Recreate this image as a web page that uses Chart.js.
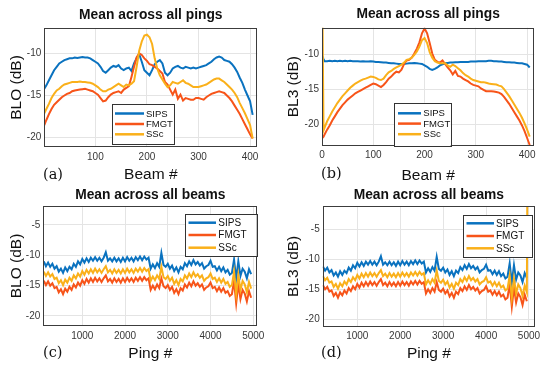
<!DOCTYPE html>
<html><head><meta charset="utf-8">
<script src="https://cdn.jsdelivr.net/npm/chart.js@4.4.0/dist/chart.umd.min.js"></script>
<style>
html,body{margin:0;padding:0;background:#fff;}
#wrap{position:relative;width:550px;height:372px;overflow:hidden;background:#fff;}
canvas{position:absolute;}
.lab{position:absolute;font-family:"DejaVu Serif",serif;font-size:14.5px;color:#111;line-height:1;white-space:nowrap;}
</style></head><body>
<div id="wrap">
<canvas id="ca" width="275" height="186" style="left:0;top:0"></canvas>
<canvas id="cb" width="275" height="186" style="left:275px;top:0"></canvas>
<canvas id="cc" width="275" height="186" style="left:0;top:186px"></canvas>
<canvas id="cd" width="275" height="186" style="left:275px;top:186px"></canvas>
<span class="lab" style="left:43px;top:167px">(a)</span>
<span class="lab" style="left:321px;top:165.5px">(b)</span>
<span class="lab" style="left:43px;top:345px">(c)</span>
<span class="lab" style="left:321px;top:345px">(d)</span>
</div>
<script>
// ---------- data ----------
const seriesNames = ["SIPS", "FMGT", "SSc"];
const titleA = "Mean across all pings";
const titleC = "Mean across all beams";

const beamsA = [1,5,10,15,20,25,30,35,40,45,50,55,60,65,70,75,80,85,90,95,100,105,110,115,120,125,130,135,140,145,150,155,160,165,170,175,180,185,190,195,200,205,210,215,220,225,230,235,240,245,250,255,260,265,270,275,280,285,290,295,300,305,310,315,320,325,330,335,340,345,350,355,360,365,370,375,380,385,390,395,400,405];
const sipsA = [-14.2,-13.8,-13.2,-12.6,-12.0,-11.6,-11.2,-11.0,-10.8,-10.7,
 -10.6,-10.6,-10.5,-10.55,-10.5,-10.45,-10.5,-10.5,-10.6,-10.8,
 -11.0,-11.2,-11.6,-12.1,-12.3,-12.0,-11.7,-11.5,-11.6,-11.4,
 -11.8,-12.0,-11.8,-11.7,-12.1,-11.2,-10.6,-10.1,-11.0,-12.0,
 -12.3,-12.6,-12.0,-11.3,-11.0,-10.8,-11.2,-12.3,-12.6,-12.3,
 -11.8,-11.6,-11.5,-11.7,-11.8,-11.6,-11.7,-11.8,-11.7,-11.8,
 -11.7,-11.6,-11.5,-11.4,-11.2,-11.0,-10.7,-10.5,-10.4,-10.5,
 -10.8,-10.9,-11.0,-11.3,-11.7,-12.2,-12.9,-13.5,-14.3,-15.0,
 -15.7,-17.3];
const fmgtA = [-18.5,-17.9,-17.2,-16.6,-16.1,-15.8,-15.5,-15.2,-15.0,-14.8,
 -14.7,-14.5,-14.4,-14.35,-14.3,-14.25,-14.2,-14.3,-14.4,-14.5,
 -14.7,-14.9,-15.3,-15.7,-15.6,-15.2,-14.9,-14.7,-14.6,-14.5,
 -14.7,-14.3,-14.1,-13.9,-12.8,-11.6,-10.5,-10.0,-10.2,-10.6,
 -10.9,-11.3,-11.4,-11.6,-11.8,-12.1,-12.4,-13.4,-13.7,-14.3,
 -14.9,-14.3,-15.4,-14.9,-15.6,-15.3,-15.4,-15.5,-15.5,-15.3,
 -15.3,-15.4,-15.5,-15.2,-15.0,-14.8,-14.7,-14.6,-14.5,-14.6,
 -14.7,-15.0,-15.3,-15.7,-16.2,-16.7,-17.2,-17.8,-18.4,-19.0,
 -19.6,-20.1];
const sscA = [-17.1,-16.6,-16.0,-15.3,-14.8,-14.4,-14.2,-13.9,-13.7,-13.6,
 -13.5,-13.4,-13.4,-13.4,-13.35,-13.4,-13.4,-13.45,-13.5,-13.6,
 -13.8,-14.0,-14.3,-14.5,-14.5,-14.3,-14.2,-14.0,-13.8,-13.6,
 -13.8,-14.0,-13.7,-13.8,-13.6,-13.3,-11.6,-9.7,-8.6,-7.9,
 -7.8,-8.1,-8.9,-10.6,-11.8,-12.6,-13.1,-13.6,-14.0,-13.8,
 -13.4,-13.5,-13.6,-13.4,-13.2,-13.5,-13.6,-13.8,-14.0,-14.0,
 -14.0,-13.9,-13.8,-13.7,-13.5,-13.3,-13.1,-13.0,-13.0,-13.2,
 -13.4,-13.7,-14.0,-14.3,-14.7,-15.2,-15.9,-16.5,-17.1,-17.8,
 -18.5,-20.1];

const beamsB = [1,3,5,10,15,20,25,30,35,40,45,50,55,60,65,70,75,80,85,90,95,100,105,110,115,120,125,130,135,140,145,150,155,160,165,170,175,180,185,190,195,200,205,210,215,220,225,230,235,240,245,250,255,260,265,270,275,280,285,290,295,300,305,310,315,320,325,330,335,340,345,350,355,360,365,370,375,380,385,390,395,400,405];
const sipsB = [-10.3,-10.7,-11.0,
 -11.0,-10.95,-11.0,-10.95,-11.0,-10.95,-11.0,-10.95,-11.0,-10.95,
 -11.0,-11.0,-11.0,-11.05,-11.0,-11.05,-11.05,-11.0,-11.05,-11.1,
 -11.1,-11.15,-11.2,-11.2,-11.25,-11.3,-11.3,-11.35,-11.4,-11.4,
 -11.4,-11.35,-11.3,-11.3,-11.25,-11.3,-11.35,-11.4,-11.6,-11.8,
 -12.1,-12.25,-12.1,-11.9,-11.6,-11.45,-11.3,-11.25,-11.2,-11.2,
 -11.15,-11.15,-11.1,-11.1,-11.1,-11.1,-11.05,-11.05,-11.05,-11.0,
 -11.0,-11.0,-11.0,-10.95,-10.95,-11.0,-11.0,-11.05,-11.05,-11.1,
 -11.15,-11.15,-11.2,-11.2,-11.25,-11.3,-11.3,-11.4,-11.5,-11.9];
const fmgtB = [-22.0,-21.8,-21.5,
 -20.8,-20.2,-19.5,-18.9,-18.3,-17.8,-17.3,-16.9,-16.5,-16.2,
 -15.9,-15.6,-15.4,-15.2,-15.0,-14.8,-14.6,-14.4,-14.2,-14.3,
 -14.5,-14.7,-14.4,-14.0,-13.5,-13.2,-12.8,-12.5,-12.6,-12.2,
 -11.4,-10.9,-10.8,-10.5,-9.9,-9.2,-8.3,-7.0,-6.3,-7.0,
 -8.4,-9.9,-10.8,-11.1,-11.2,-10.9,-11.4,-11.9,-12.3,-12.9,
 -12.4,-13.1,-13.2,-13.5,-13.7,-13.9,-14.2,-14.4,-14.5,-14.6,
 -14.9,-15.1,-15.3,-15.3,-15.3,-15.35,-15.4,-15.5,-15.7,-16.1,
 -16.6,-17.1,-17.7,-18.3,-18.9,-19.5,-20.2,-21.0,-22.0,-23.0];
const sscB = [-5.0,-20.9,-20.5,
 -19.6,-18.9,-18.2,-17.6,-17.0,-16.5,-16.0,-15.6,-15.2,-14.8,
 -14.5,-14.2,-14.0,-13.8,-13.6,-13.5,-13.35,-13.2,-13.25,-13.4,
 -13.6,-13.7,-13.5,-13.0,-12.6,-12.4,-12.1,-11.9,-11.7,-11.5,
 -11.2,-10.8,-10.7,-10.5,-10.1,-9.6,-8.9,-8.0,-7.7,-8.4,
 -9.7,-10.5,-11.0,-11.2,-11.3,-11.3,-11.3,-11.6,-11.8,-11.5,
 -11.7,-12.0,-12.3,-12.7,-13.0,-13.2,-13.5,-13.7,-13.8,-13.9,
 -14.0,-14.0,-14.1,-14.2,-14.25,-14.3,-14.35,-14.5,-14.6,-15.0,
 -15.5,-16.0,-16.6,-17.2,-17.8,-18.4,-19.1,-19.9,-20.8,-21.8];

const pingsC = [100,150,200,250,300,350,400,450,500,550,600,650,700,750,800,850,900,950,1000,1050,1100,1150,1200,1250,1300,1350,1400,1450,1500,1550,1600,1650,1700,1750,1800,1850,1900,1950,2000,2050,2100,2150,2200,2250,2300,2350,2400,2450,2500,2550,2600,2650,2700,2750,2800,2850,2900,2950,3000,3050,3100,3150,3200,3250,3300,3350,3400,3450,3500,3550,3600,3650,3700,3750,3800,3850,3900,3950,4000,4050,4100,4150,4200,4250,4300,4350,4400,4450,4500,4550,4600,4650,4700,4750,4800,4850,4900,4950];
const sipsC = [-11.0,-11.8,-11.2,-11.9,-11.4,-12.2,-11.8,-12.7,-12.2,-12.9,
 -12.0,-12.6,-11.9,-12.3,-11.4,-11.9,-11.0,-11.5,-10.6,-11.2,
 -10.5,-11.1,-10.4,-10.9,-10.3,-10.9,-10.4,-11.0,-10.4,-9.5,
 -10.9,-10.5,-11.0,-10.4,-11.0,-10.5,-11.1,-10.4,-11.0,-10.3,
 -10.9,-10.4,-11.0,-10.3,-10.8,-10.2,-10.8,-10.2,-10.7,-10.4,
 -12.2,-11.5,-12.1,-11.3,-11.9,-9.6,-11.6,-11.9,-11.4,-12.2,
 -11.7,-12.6,-12.0,-12.8,-11.9,-12.3,-11.3,-11.8,-11.0,-11.6,
 -10.8,-11.5,-11.1,-11.7,-11.3,-12.2,-11.8,-11.6,-10.9,-11.9,
 -11.8,-12.5,-11.9,-12.6,-12.0,-12.8,-12.4,-13.2,-12.9,-10.7,
 -13.9,-11.0,-13.4,-12.2,-12.7,-13.8,-12.3,-13.1];
const fmgtC = [-14.2,-14.9,-14.3,-15.0,-14.6,-15.4,-15.2,-16.1,-15.6,-16.4,
 -15.5,-16.0,-15.2,-15.7,-14.8,-15.3,-14.5,-15.0,-14.1,-14.7,
 -13.9,-14.5,-13.8,-14.4,-13.7,-14.3,-13.8,-14.4,-13.8,-13.3,
 -14.3,-13.9,-14.5,-13.8,-14.4,-13.9,-14.5,-13.8,-14.4,-13.7,
 -14.3,-13.8,-14.4,-13.7,-14.2,-13.6,-14.2,-13.6,-14.1,-13.8,
 -15.7,-15.0,-15.6,-14.8,-15.4,-13.8,-15.1,-15.4,-14.9,-15.7,
 -15.2,-16.2,-15.6,-16.4,-15.4,-15.8,-14.8,-15.3,-14.5,-15.1,
 -14.3,-15.0,-14.6,-15.2,-14.8,-15.7,-15.3,-15.1,-14.5,-15.4,
 -15.2,-15.9,-15.3,-16.0,-15.4,-16.2,-15.9,-16.7,-16.4,-14.2,
 -17.9,-14.7,-17.2,-15.7,-16.3,-17.6,-15.9,-17.0];
const sscC = [-12.7,-13.4,-12.8,-13.5,-13.1,-13.9,-13.7,-14.6,-14.1,-14.9,
 -14.0,-14.5,-13.7,-14.2,-13.3,-13.8,-13.0,-13.5,-12.6,-13.2,
 -12.4,-13.0,-12.3,-12.9,-12.2,-12.8,-12.3,-12.9,-12.3,-11.8,
 -12.8,-12.4,-13.0,-12.3,-12.9,-12.4,-13.0,-12.3,-12.9,-12.2,
 -12.8,-12.3,-12.9,-12.2,-12.7,-12.1,-12.7,-12.1,-12.6,-12.3,
 -14.2,-13.5,-14.1,-13.3,-13.9,-11.9,-13.6,-13.9,-13.4,-14.2,
 -13.7,-14.7,-14.1,-14.9,-13.9,-14.3,-13.3,-13.8,-13.0,-13.6,
 -12.8,-13.5,-13.1,-13.7,-13.3,-14.2,-13.8,-13.6,-13.0,-13.9,
 -13.7,-14.4,-13.8,-14.5,-13.9,-14.7,-14.4,-15.2,-14.9,-12.7,
 -16.4,-13.2,-15.7,-14.2,-14.8,-16.1,-14.4,-15.5];
// panel (d): same pings from 200 onward, plus the final SSc spike
const firstPingD = 200;
const spikePingD = [4960];
const spikeSscD = [0];

const xTicksA = [100, 200, 300, 400];
const xTicksB = [0, 100, 200, 300, 400];
const yTicksAB = [-10, -15, -20];
const xTicksCD = [1000, 2000, 3000, 4000, 5000];
const yTicksCD = [-5, -10, -15, -20];

// ---------- styles ----------
const colors = ["#0a72bf", "#f75419", "#fab01a"];
const SANS = "'Liberation Sans', Arial, sans-serif";

const frameLegend = {
  id: 'frameLegend',
  afterDatasetsDraw(chart, args, o) {
    const {ctx, chartArea: a} = chart;
    ctx.save();
    ctx.strokeStyle = '#3c3c3c'; ctx.lineWidth = 1;
    ctx.strokeRect(Math.round(a.left) + 0.5, Math.round(a.top) + 0.5,
      Math.round(a.right) - Math.round(a.left) - 1, Math.round(a.bottom) - Math.round(a.top) - 1);
    const L = o.box;
    ctx.fillStyle = '#fff';
    ctx.fillRect(L[0], L[1], L[2] - L[0], L[3] - L[1]);
    ctx.strokeStyle = '#333';
    ctx.strokeRect(Math.round(L[0]) + 0.5, Math.round(L[1]) + 0.5, Math.round(L[2] - L[0]), Math.round(L[3] - L[1]));
    ctx.font = o.fontSize + 'px ' + SANS;
    ctx.textBaseline = 'middle';
    ctx.textAlign = 'left';
    chart.data.datasets.forEach((ds, i) => {
      const y = o.rows[i];
      ctx.strokeStyle = ds.borderColor; ctx.lineWidth = 2.5;
      ctx.beginPath(); ctx.moveTo(o.line[0], y); ctx.lineTo(o.line[1], y); ctx.stroke();
      ctx.fillStyle = '#111';
      ctx.fillText(ds.label, o.textX, y + 0.5);
    });
    ctx.restore();
  }
};

function pts(xs, ys) { return xs.map((x, j) => ({x: x, y: ys[j]})); }

function makeChart(id, c) {
  return new Chart(document.getElementById(id), {
    type: 'line',
    data: {
      datasets: c.series.map((d, i) => ({
        label: seriesNames[i], data: d, borderColor: colors[i], backgroundColor: colors[i],
        borderWidth: c.lw, pointRadius: 0, tension: 0, fill: false, order: 3 - i, clip: 0
      }))
    },
    options: {
      responsive: false, animation: false, devicePixelRatio: 1,
      events: [],
      layout: {padding: {left: 0, top: 0, right: c.padR, bottom: 0}},
      plugins: {
        legend: {display: false}, tooltip: {enabled: false},
        title: {display: true, text: c.title, fullSize: false, color: '#111',
          font: {family: SANS, size: 13.8, weight: 'bold', lineHeight: 1.2},
          padding: {top: c.tPad[0], bottom: c.tPad[1]}},
        frameLegend: c.legend
      },
      scales: {
        x: {
          type: 'linear', min: c.xr[0], max: c.xr[1],
          afterBuildTicks: s => { s.ticks = c.xticks.map(v => ({value: v})); },
          afterFit: s => { s.height = c.xh; },
          grid: {color: '#e4e4e4', drawTicks: false, lineWidth: 1},
          border: {display: false},
          ticks: {padding: 4, color: '#383838', font: {family: SANS, size: 10}, maxRotation: 0, autoSkip: false, callback: v => String(v)},
          title: {display: true, text: c.xlabel, color: '#111', font: {family: SANS, size: 15.5, lineHeight: 1.2}, padding: {top: 0, bottom: c.xtp}}
        },
        y: {
          type: 'linear', min: c.yr[0], max: c.yr[1],
          afterBuildTicks: s => { s.ticks = c.yticks.map(v => ({value: v})); },
          afterFit: s => { s.width = c.yw; },
          grid: {color: '#e4e4e4', drawTicks: false, lineWidth: 1},
          border: {display: false},
          ticks: {padding: 3, color: '#383838', font: {family: SANS, size: 10}, autoSkip: false, callback: v => String(v)},
          title: {display: true, text: c.ylabel, color: '#111', font: {family: SANS, size: 15.5, lineHeight: 1.2}, padding: {top: c.ytp, bottom: 0}}
        }
      }
    },
    plugins: [frameLegend]
  });
}

const startD = pingsC.indexOf(firstPingD);
const pingsD = pingsC.slice(startD);

makeChart('ca', {
  title: titleA, xlabel: 'Beam #', ylabel: 'BLO (dB)', lw: 2,
  series: [pts(beamsA, sipsA), pts(beamsA, fmgtA), pts(beamsA, sscA)],
  xr: [1, 414], yr: [-21.1, -7.0], xticks: xTicksA, yticks: yTicksAB,
  padR: 17.7, xh: 39, yw: 44.3, tPad: [6.7, 4.7], xtp: 1.7, ytp: 7.4,
  legend: {box: [112, 104, 174, 143.5], line: [115, 144], textX: 146, rows: [113.5, 124, 134.3], fontSize: 9.5}
});
makeChart('cb', {
  title: titleA, xlabel: 'Beam #', ylabel: 'BL3 (dB)', lw: 2,
  series: [pts(beamsB, sipsB), pts(beamsB, fmgtB), pts(beamsB, sscB)],
  xr: [0, 414], yr: [-23.1, -6.2], xticks: xTicksB, yticks: yTicksAB,
  padR: 15.7, xh: 40.3, yw: 47, tPad: [6.2, 4.9], xtp: 0.7, ytp: 9.4,
  legend: {box: [119, 102.7, 175.7, 146], line: [123, 146], textX: 148.3, rows: [113.3, 123.6, 134.2], fontSize: 9.5}
});
makeChart('cc', {
  title: titleC, xlabel: 'Ping #', ylabel: 'BLO (dB)', lw: 2,
  series: [pts(pingsC, sipsC), pts(pingsC, fmgtC), pts(pingsC, sscC)],
  xr: [88, 5094], yr: [-21.65, -1.87], xticks: xTicksCD, yticks: yTicksCD,
  padR: 17.7, xh: 46, yw: 43.3, tPad: [0.9, 2.5], xtp: 9.2, ytp: 7.7,
  legend: {box: [185, 28.3, 256.7, 70], line: [188.5, 216], textX: 218.3, rows: [36.7, 49, 61.7], fontSize: 10}
});
makeChart('cd', {
  title: titleC, xlabel: 'Ping #', ylabel: 'BL3 (dB)', lw: 2,
  series: [pts(pingsD, sipsC.slice(startD)), pts(pingsD, fmgtC.slice(startD)),
           pts(pingsD.concat(spikePingD), sscC.slice(startD).concat(spikeSscD))],
  xr: [194, 5140], yr: [-21.23, -1.12], xticks: xTicksCD, yticks: yTicksCD,
  padR: 15, xh: 45.3, yw: 47.7, tPad: [0.9, 2.5], xtp: 9.2, ytp: 9.9,
  legend: {box: [188.3, 29.3, 257.3, 71], line: [191.5, 219], textX: 221, rows: [37.3, 50, 62.3], fontSize: 10}
});
</script>
</body></html>
